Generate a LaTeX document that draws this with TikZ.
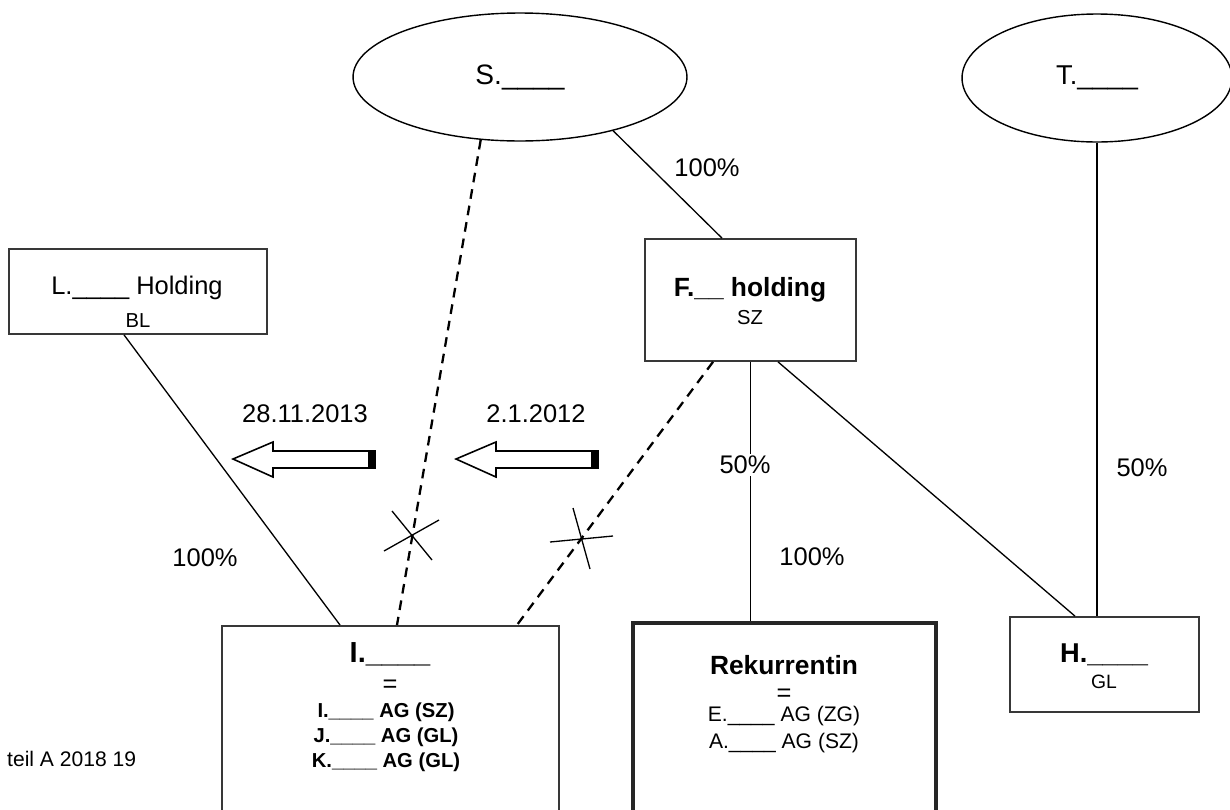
\documentclass[tikz,border=0pt]{standalone}
\usepackage{fontspec}
\setmainfont{Liberation Sans}
\usetikzlibrary{shapes.geometric}
\definecolor{bgray}{rgb}{0.22, 0.22, 0.22}
\tikzset{rect/.style = {draw = bgray, line width = 1pt, inner sep = 0}}
\tikzset{oval/.style = {draw, ellipse, line width = 0.8pt, inner sep = 0}}
\tikzset{conn/.style = {line width = 0.75pt}}
\tikzset{dconn/.style = {line width = 1.3pt, dash pattern = on 5.5pt off 4pt}}
\tikzset{blockarrow/.style = {draw, line width = 0.9pt, fill = white}}
\tikzset{lbl/.style = {font = \fontsize{14.5}{17}\selectfont}}
\tikzset{sml/.style = {font = \fontsize{11.5}{13}\selectfont}}
\tikzset{hd/.style = {font = \fontsize{16.5}{19}\selectfont\bfseries}}

\begin{document}
\begin{tikzpicture}[x=0.02cm, y=-0.02cm]
          \useasboundingbox (0, 0) rectangle (1230, 809);

          \node [oval, font = \fontsize{16}{19}\selectfont, minimum width = 6.68cm, minimum height = 2.56cm] (sEll) at (520, 77) {S.\_\_\_\_};
          \node [oval, font = \fontsize{15.5}{19}\selectfont, minimum width = 5.4cm, minimum height = 2.56cm] (tEll) at (1097, 78) {T.\_\_\_\_\hspace{8pt}};

          \node [rect, minimum width = 5.16cm, minimum height = 1.7cm] (lBox) at (138, 291.5) {};
          \node [font = \fontsize{14.5}{17}\selectfont] (lName) at (137, 288) {L.\_\_\_\_ Holding};
          \node [sml] (lSite) at (138, 321) {BL};

          \node [rect, minimum width = 4.22cm, minimum height = 2.44cm] (fBox) at (750.5, 300) {};
          \node [font = \fontsize{15}{18}\selectfont\bfseries] (fName) at (750, 290) {F.\_\_ holding};
          \node [sml] (fSite) at (750, 318) {SZ};

          \node [rect, minimum width = 3.78cm, minimum height = 1.9cm] (hBox) at (1104.5, 664.5) {};
          \node [hd, font = \fontsize{15.5}{19}\selectfont\bfseries] (hName) at (1104, 655) {H.\_\_\_\_};
          \node [sml, font = \fontsize{11}{13}\selectfont] (hSite) at (1104, 682) {GL};

          \node [rect, anchor = north, minimum width = 6.74cm, minimum height = 5cm] (iBox) at (390.5, 625) {};
          \node [hd] (iName) at (390, 654) {I.\_\_\_\_};
          \node [lbl] (iEq) at (390, 686) {=};
          \node [align = center, font = \fontsize{11.5}{14.2}\selectfont\bfseries] (iList) at (386, 737) {I.\_\_\_\_ AG (SZ)\\J.\_\_\_\_ AG (GL)\\K.\_\_\_\_ AG (GL)};

          \node [rect, line width = 2.3pt, draw = black!85, anchor = north, minimum width = 6.06cm, minimum height = 5cm] (rBox) at (784.5, 621) {};
          \node [font = \fontsize{15}{18}\selectfont\bfseries] (rName) at (784, 665) {Rekurrentin};
          \node [lbl] (rEq) at (784, 695) {=};
          \node [align = center, font = \fontsize{12}{15.3}\selectfont] (rList) at (784, 729.5) {E.\_\_\_\_ AG (ZG)\\A.\_\_\_\_ AG (SZ)};

          \draw [conn] (124, 0 |- lBox.south) -- (340, 0 |- iBox.north);
          \draw [dconn] (sEll.238) -- (397, 0 |- iBox.north);
          \draw [conn] (sEll.330) -- (722, 0 |- fBox.north);
          \draw [dconn] (713, 0 |- fBox.south) -- (517, 0 |- iBox.north);
          \draw [conn] (fBox.south) -- (fBox.south |- rBox.north);
          \draw [conn] (778, 0 |- fBox.south) -- (1075, 0 |- hBox.north);
          \draw [conn] (tEll.south) -- (tEll.south |- hBox.north);

          \draw [conn] (392, 511) -- (432, 560) (384, 551) -- (439, 520);
          \draw [conn] (573, 508) -- (590, 569) (550, 542) -- (613, 536);

          \foreach \d in {0, 223} {
            \draw [blockarrow] (233 + \d, 459) -- (273 + \d, 442) -- (273 + \d, 451) -- (375 + \d, 451)
              -- (375 + \d, 468) -- (273 + \d, 468) -- (273 + \d, 477) -- cycle;
            \fill (368 + \d, 451) rectangle (375 + \d, 468);
          }

          \node [lbl] (dateA) at (305, 414) {28.11.2013};
          \node [lbl] (dateB) at (536, 414) {2.1.2012};

          \node [lbl] (pS) at (707, 168) {100\%};
          \node [lbl] (pL) at (205, 558) {100\%};
          \node [lbl] (pR) at (812, 557) {100\%};
          \node [lbl, fill = white, inner sep = 1pt] (pF) at (745, 465) {50\%};
          \node [lbl] (pT) at (1142, 468) {50\%};

          \node [anchor = base west, font = \fontsize{12}{14}\selectfont] (src) at (1, 766) {teil A 2018 19};
        \end{tikzpicture}
\end{document}
